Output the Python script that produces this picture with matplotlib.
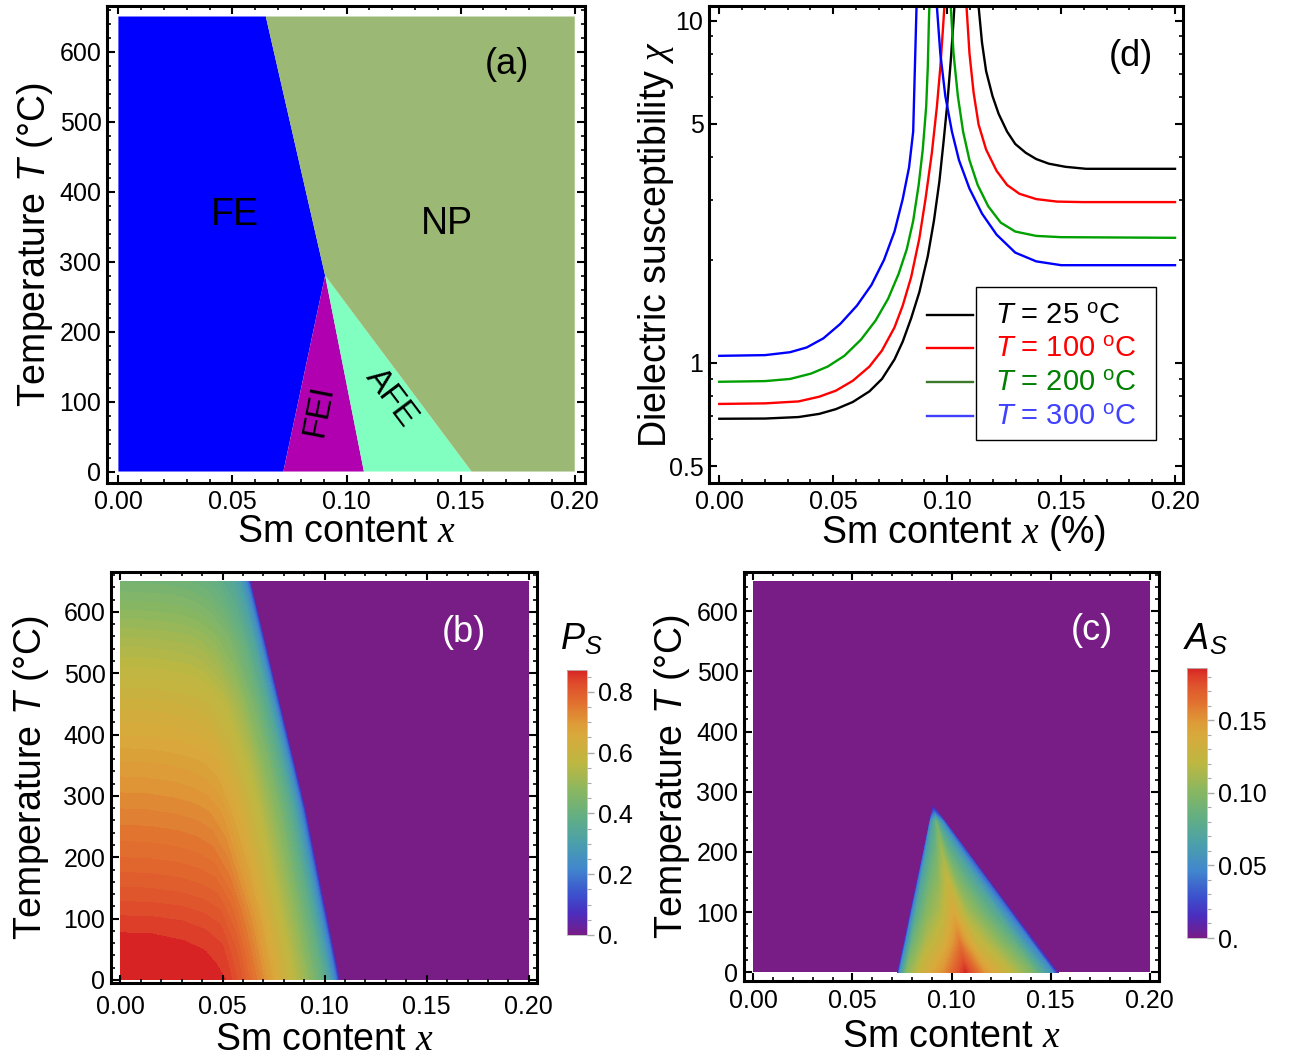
import numpy as np
import matplotlib
matplotlib.use('Agg')
import matplotlib.pyplot as plt
from matplotlib.colors import LinearSegmentedColormap, Normalize
from matplotlib.cm import ScalarMappable
from matplotlib.patches import Rectangle
from matplotlib.ticker import MultipleLocator, FixedLocator, FixedFormatter, NullFormatter

plt.rcParams['font.family'] = ['Liberation Sans', 'DejaVu Sans']
plt.rcParams['mathtext.fontset'] = 'custom'
plt.rcParams['mathtext.rm'] = 'Liberation Sans'
plt.rcParams['mathtext.it'] = 'Liberation Serif:italic'
plt.rcParams['mathtext.sf'] = 'Liberation Sans:italic'

# ---- data -------------------------------------------------------------
x_range = [0.0, 0.2]
T_range = [0, 650]

# (a) phase boundaries
triple_x, triple_T = 0.0906, 280
fe_np_top_x = 0.0646
fe_fei_bot_x = 0.0723
fei_afe_bot_x = 0.1076
afe_np_bot_x = 0.1548

# (d) susceptibility: left branch (below the transition) and right branch
chi_labels = ['25', '100', '200', '300']
left_x = [
    [0, 0.0201, 0.0348, 0.0439, 0.0512, 0.0586, 0.0659, 0.0714, 0.0769, 0.0805,
     0.0842, 0.0878, 0.0915, 0.0942, 0.0966, 0.0984, 0.1001, 0.1016, 0.1028, 0.1037],
    [0, 0.0201, 0.0348, 0.0439, 0.0512, 0.0586, 0.0659, 0.0714, 0.0769, 0.0805,
     0.0842, 0.0878, 0.0905, 0.0933, 0.0955, 0.0970, 0.0984, 0.0993],
    [0, 0.0201, 0.0311, 0.0403, 0.0476, 0.0549, 0.0622, 0.0686, 0.0741, 0.0787,
     0.0823, 0.0851, 0.0875, 0.0893, 0.0908, 0.0915, 0.0920, 0.0925],
    [0, 0.0201, 0.0311, 0.0384, 0.0457, 0.0531, 0.0604, 0.0668, 0.0723, 0.0769,
     0.0805, 0.0833, 0.0851, 0.0856, 0.0864, 0.0868],
]
left_chi = [
    [0.687, 0.688, 0.695, 0.710, 0.733, 0.769, 0.826, 0.898, 1.024, 1.154,
     1.35, 1.61, 2.05, 2.60, 3.39, 4.41, 5.74, 7.65, 10.0, 12.5],
    [0.759, 0.762, 0.772, 0.797, 0.830, 0.887, 0.976, 1.087, 1.27, 1.47,
     1.78, 2.31, 3.01, 4.11, 5.60, 7.29, 10.0, 12.5],
    [0.881, 0.885, 0.898, 0.931, 0.976, 1.049, 1.17, 1.33, 1.54, 1.82,
     2.15, 2.60, 3.31, 4.20, 5.60, 7.29, 10.0, 12.5],
    [1.049, 1.054, 1.075, 1.11, 1.18, 1.30, 1.47, 1.69, 2.00, 2.42,
     3.01, 3.73, 4.74, 6.32, 10.0, 12.5],
]
right_x = [
    [0.1133, 0.1138, 0.1153, 0.1171, 0.1199, 0.1226, 0.1263, 0.1299, 0.1345, 0.1391,
     0.1446, 0.1519, 0.1610, 0.2],
    [0.1080, 0.1085, 0.1098, 0.1116, 0.1138, 0.1171, 0.1217, 0.1263, 0.1317, 0.1391,
     0.1482, 0.1592, 0.2],
    [0.1011, 0.1016, 0.1028, 0.1047, 0.1070, 0.1098, 0.1134, 0.1180, 0.1235, 0.1299,
     0.1391, 0.1500, 0.2],
    [0.0950, 0.0955, 0.0970, 0.0992, 0.1021, 0.1052, 0.1098, 0.1153, 0.1217, 0.1299,
     0.1391, 0.1500, 0.2],
]
right_chi = [
    [12.5, 11.0, 8.62, 7.12, 6.02, 5.34, 4.74, 4.36, 4.11, 3.94, 3.82, 3.74, 3.69, 3.69],
    [12.5, 11.0, 8.02, 6.17, 4.97, 4.20, 3.64, 3.31, 3.12, 3.01, 2.96, 2.95, 2.95],
    [12.5, 11.0, 8.02, 6.02, 4.74, 3.91, 3.31, 2.87, 2.57, 2.42, 2.35, 2.33, 2.32],
    [12.5, 11.0, 8.02, 6.02, 4.74, 3.91, 3.23, 2.73, 2.37, 2.10, 1.98, 1.93, 1.93],
]

# (b) Ps: rows of T, columns given as fraction of the FE edge x at that T
ps_T = [0, 25, 50, 75, 100, 125, 150, 200, 280, 350, 450, 550, 650]
ps_edge = [0.1075, 0.1060, 0.1045, 0.1030, 0.1015, 0.0999, 0.0984, 0.0954, 0.0906,
           0.0855, 0.0782, 0.0710, 0.0637]
ps_frac = [0, 0.15, 0.3, 0.4, 0.48, 0.55, 0.65, 0.75, 0.85, 0.92, 0.96, 0.985, 1.0]
ps_vals = [
    [0.866, 0.865, 0.862, 0.857, 0.850, 0.810, 0.720, 0.610, 0.490, 0.390, 0.290, 0.180, 0],
    [0.864, 0.863, 0.860, 0.855, 0.846, 0.805, 0.715, 0.610, 0.490, 0.390, 0.290, 0.180, 0],
    [0.860, 0.859, 0.855, 0.849, 0.838, 0.800, 0.710, 0.605, 0.485, 0.385, 0.285, 0.180, 0],
    [0.851, 0.850, 0.846, 0.839, 0.828, 0.790, 0.705, 0.600, 0.485, 0.385, 0.285, 0.180, 0],
    [0.838, 0.837, 0.833, 0.826, 0.815, 0.780, 0.700, 0.595, 0.480, 0.380, 0.280, 0.175, 0],
    [0.822, 0.821, 0.817, 0.810, 0.800, 0.770, 0.690, 0.590, 0.480, 0.380, 0.280, 0.175, 0],
    [0.806, 0.805, 0.800, 0.794, 0.785, 0.755, 0.680, 0.585, 0.475, 0.375, 0.280, 0.175, 0],
    [0.775, 0.774, 0.770, 0.764, 0.755, 0.730, 0.665, 0.575, 0.470, 0.370, 0.275, 0.170, 0],
    [0.730, 0.729, 0.725, 0.720, 0.712, 0.695, 0.640, 0.560, 0.460, 0.365, 0.270, 0.170, 0],
    [0.690, 0.689, 0.685, 0.680, 0.673, 0.660, 0.615, 0.545, 0.450, 0.360, 0.270, 0.170, 0],
    [0.620, 0.619, 0.615, 0.610, 0.605, 0.595, 0.565, 0.510, 0.430, 0.350, 0.260, 0.165, 0],
    [0.530, 0.529, 0.526, 0.522, 0.518, 0.510, 0.490, 0.455, 0.400, 0.330, 0.250, 0.160, 0],
    [0.430, 0.429, 0.427, 0.424, 0.420, 0.415, 0.405, 0.385, 0.350, 0.300, 0.235, 0.155, 0],
]

# (c) As: rows of T; columns run left edge -> ridge (FEI/AFE) -> right edge
as_T = [0, 50, 100, 150, 200, 250, 277]
as_left = [0.0726, 0.0759, 0.0791, 0.0824, 0.0857, 0.0889, 0.0907]
as_ridge = [0.1070, 0.1041, 0.1011, 0.0982, 0.0952, 0.0923, 0.0907]
as_right = [0.1539, 0.1425, 0.1311, 0.1197, 0.1083, 0.0969, 0.0907]
as_u = [0, 0.04, 0.15, 0.4, 0.7, 1.0]
as_w = [0.22, 0.45, 0.72, 0.94, 1.0]
as_vals = [
    [0, 0.056, 0.102, 0.133, 0.154, 0.185, 0.148, 0.126, 0.096, 0.050, 0],
    [0, 0.048, 0.088, 0.115, 0.133, 0.160, 0.128, 0.109, 0.083, 0.043, 0],
    [0, 0.042, 0.077, 0.101, 0.116, 0.140, 0.112, 0.095, 0.073, 0.038, 0],
    [0, 0.038, 0.069, 0.090, 0.104, 0.125, 0.100, 0.085, 0.065, 0.034, 0],
    [0, 0.033, 0.061, 0.079, 0.091, 0.110, 0.088, 0.075, 0.057, 0.030, 0],
    [0, 0.027, 0.050, 0.065, 0.075, 0.090, 0.072, 0.061, 0.047, 0.024, 0],
    [0, 0, 0, 0, 0, 0, 0, 0, 0, 0, 0],
]

# ---- styles -----------------------------------------------------------
rainbow = LinearSegmentedColormap.from_list('rainbow_m', [
    (0.00, (120/255, 28/255, 134/255)),
    (0.08, (75/255, 45/255, 190/255)),
    (0.15, (60/255, 80/255, 205/255)),
    (0.25, (65/255, 135/255, 205/255)),
    (0.35, (75/255, 160/255, 170/255)),
    (0.45, (100/255, 175/255, 130/255)),
    (0.55, (140/255, 183/255, 95/255)),
    (0.65, (190/255, 183/255, 65/255)),
    (0.75, (215/255, 170/255, 60/255)),
    (0.80, (222/255, 155/255, 55/255)),
    (0.87, (225/255, 115/255, 48/255)),
    (0.94, (223/255, 82/255, 44/255)),
    (0.975, (219/255, 58/255, 40/255)),
    (1.00, (215/255, 35/255, 35/255)),
])
purple = rainbow(0.0)

W, H = 1294, 1059
fig = plt.figure(figsize=(W/100, H/100), dpi=100)


def rect(l, t, r, b):
    return [l/W, 1 - b/H, (r - l)/W, (b - t)/H]


def frame(ax, xpad=5):
    for s in ax.spines.values():
        s.set_linewidth(2.2)
    ax.tick_params(which='both', direction='in', top=True, right=True, labelsize=18)
    ax.tick_params(axis='x', pad=xpad)
    ax.tick_params(axis='y', pad=4)
    ax.tick_params(which='major', length=6, width=1.5)
    ax.tick_params(which='minor', length=3, width=1.2)


def T_axes(ax, ylim, xlim, xpad, xlpad, ylpad):
    frame(ax, xpad)
    ax.set_xlim(*xlim)
    ax.set_ylim(*ylim)
    ax.xaxis.set_major_locator(MultipleLocator(0.05))
    ax.xaxis.set_minor_locator(MultipleLocator(0.01))
    ax.yaxis.set_major_locator(MultipleLocator(100))
    ax.yaxis.set_minor_locator(MultipleLocator(20))
    ax.xaxis.set_major_formatter(plt.FuncFormatter(lambda v, p: '%.2f' % v))
    ax.set_xlabel('Sm content $x$', fontsize=27, labelpad=xlpad)
    ax.set_ylabel('Temperature $\\mathsf{T}$ (°C)', fontsize=27, labelpad=ylpad)


# ---- (a) phase diagram ------------------------------------------------
ax_a = fig.add_axes(rect(107, 6, 585, 483))
T_axes(ax_a, (-16.4, 665), (-0.005, 0.2045), 5, 0, 3)
x0, x1 = x_range
T0, T1 = T_range
ax_a.fill([x0, fe_fei_bot_x, triple_x, fe_np_top_x, x0], [T0, T0, triple_T, T1, T1],
          color='#0000FF', lw=0)
ax_a.fill([fe_fei_bot_x, fei_afe_bot_x, triple_x], [T0, T0, triple_T], color='#B000B0', lw=0)
ax_a.fill([fei_afe_bot_x, afe_np_bot_x, triple_x], [T0, T0, triple_T], color='#80FFC0', lw=0)
ax_a.fill([afe_np_bot_x, x1, x1, fe_np_top_x, triple_x], [T0, T0, T1, T1, triple_T],
          color='#9BB974', lw=0)
ax_a.text(0.0511, 366, 'FE', fontsize=27, ha='center', va='center')
ax_a.text(0.144, 353, 'NP', fontsize=27, ha='center', va='center')
ax_a.text(0.0877, 86, 'FEI', fontsize=24, ha='center', va='center', rotation=79)
ax_a.text(0.1195, 106, 'AFE', fontsize=24, ha='center', va='center', rotation=-53)
ax_a.text(0.1704, 582, '(a)', fontsize=26, ha='center', va='center')

# ---- (d) susceptibility ------------------------------------------------
ax_d = fig.add_axes(rect(709, 6, 1183, 483))
frame(ax_d, 5)
ax_d.set_yscale('log')
ax_d.set_xlim(-0.0045, 0.2035)
ax_d.set_ylim(0.446, 11.03)
curve_colors = ['#000000', '#FF0000', '#00A000', '#0000FF']
for i in range(4):
    ax_d.plot(left_x[i], left_chi[i], color=curve_colors[i], lw=1.7)
    ax_d.plot(right_x[i], right_chi[i], color=curve_colors[i], lw=1.7)
ax_d.xaxis.set_major_locator(MultipleLocator(0.05))
ax_d.xaxis.set_minor_locator(MultipleLocator(0.01))
ax_d.xaxis.set_major_formatter(plt.FuncFormatter(lambda v, p: '%.2f' % v))
ax_d.yaxis.set_major_locator(FixedLocator([0.5, 1, 5, 10]))
ax_d.yaxis.set_major_formatter(FixedFormatter(['0.5', '1', '5', '10']))
ax_d.yaxis.set_minor_locator(FixedLocator([0.6, 0.7, 0.8, 0.9, 2, 3, 4, 6, 7, 8, 9]))
ax_d.yaxis.set_minor_formatter(NullFormatter())
ax_d.set_xlabel('Sm content $x$ (%)', fontsize=27, labelpad=0)
ax_d.xaxis.set_label_coords(0.538, -0.062)
ax_d.set_ylabel('Dielectric susceptibility $\\chi$', fontsize=27, labelpad=-5)
ax_d.text(0.1808, 7.83, '(d)', fontsize=26, ha='center', va='center')

# legend: handles sit outside the framed box
leg_line_colors = ['#000000', '#FF0000', '#3C7A2A', '#4040FF']
leg_text_colors = ['#000000', '#FF0000', '#008000', '#4040FF']
leg_y = [0.352, 0.283, 0.212, 0.140]
ax_d.add_patch(Rectangle((0.563, 0.090), 0.380, 0.321, transform=ax_d.transAxes,
                         fill=False, ec='black', lw=1.0))
for i in range(4):
    ax_d.plot([0.46, 0.557], [leg_y[i]] * 2, transform=ax_d.transAxes,
              color=leg_line_colors[i], lw=1.7)
    ax_d.text(0.603, leg_y[i], '$\\mathsf{T}$ = %s $^\\mathrm{o}$C' % chi_labels[i],
              transform=ax_d.transAxes, color=leg_text_colors[i], fontsize=21, va='center')

# ---- (b) Ps map -------------------------------------------------------
ax_b = fig.add_axes(rect(111, 572, 537, 983))
T_axes(ax_b, (-5, 665), (-0.0046, 0.204), 9, 2, 9)
ax_b.fill_between(x_range, T_range[0], T_range[1], color=purple, lw=0)
ps_x = np.outer(ps_edge, ps_frac)
ps_y = np.repeat(np.array(ps_T, float)[:, None], len(ps_frac), axis=1)
norm_b = Normalize(0, 0.872)
ps_levels = np.append(np.linspace(0, 0.85, 58), 0.9)
ax_b.contourf(ps_x, ps_y, np.array(ps_vals), levels=ps_levels, cmap=rainbow, norm=norm_b)
ax_b.text(0.168, 567, '(b)', fontsize=26, color='white', ha='center', va='center')

cax_b = fig.add_axes(rect(567, 670, 587, 935))
cb_b = fig.colorbar(ScalarMappable(norm=norm_b, cmap=rainbow), cax=cax_b)
cb_b.set_ticks([0, 0.2, 0.4, 0.6, 0.8])
cb_b.set_ticklabels(['0.', '0.2', '0.4', '0.6', '0.8'])
cax_b.yaxis.set_minor_locator(MultipleLocator(0.05))
cb_b.outline.set_linewidth(0.6)
cb_b.outline.set_edgecolor('#BBBBBB')
cax_b.tick_params(which='both', color='#AAAAAA', labelsize=18, pad=3)
cax_b.tick_params(which='major', length=5, width=1)
cax_b.tick_params(which='minor', length=3, width=0.8)
fig.text(581/W, 1 - 640/H, '$\\mathsf{P}_\\mathsf{S}$', fontsize=26, ha='center', va='center')

# ---- (c) As map -------------------------------------------------------
ax_c = fig.add_axes(rect(744, 572, 1159, 981))
T_axes(ax_c, (-14.5, 665), (-0.0047, 0.2047), 6, 4, 3)
ax_c.fill_between(x_range, T_range[0], T_range[1], color=purple, lw=0)
as_x = []
for i in range(len(as_T)):
    row = [as_left[i] + u * (as_ridge[i] - as_left[i]) for u in as_u]
    row += [as_ridge[i] + w * (as_right[i] - as_ridge[i]) for w in as_w]
    as_x.append(row)
as_x = np.array(as_x)
as_y = np.repeat(np.array(as_T, float)[:, None], as_x.shape[1], axis=1)
norm_c = Normalize(0, 0.186)
ax_c.contourf(as_x, as_y, np.array(as_vals), levels=np.linspace(0, 0.19, 80),
              cmap=rainbow, norm=norm_c)
ax_c.text(0.171, 567, '(c)', fontsize=26, color='white', ha='center', va='center')

cax_c = fig.add_axes(rect(1187, 668, 1207, 938))
cb_c = fig.colorbar(ScalarMappable(norm=norm_c, cmap=rainbow), cax=cax_c)
cb_c.set_ticks([0, 0.05, 0.10, 0.15])
cb_c.set_ticklabels(['0.', '0.05', '0.10', '0.15'])
cax_c.yaxis.set_minor_locator(MultipleLocator(0.01))
cb_c.outline.set_linewidth(0.6)
cb_c.outline.set_edgecolor('#BBBBBB')
cax_c.tick_params(which='both', color='#AAAAAA', labelsize=18, pad=3)
cax_c.tick_params(which='major', length=5, width=1)
cax_c.tick_params(which='minor', length=3, width=0.8)
fig.text(1205/W, 1 - 640/H, '$\\mathsf{A}_\\mathsf{S}$', fontsize=26, ha='center', va='center')

fig.savefig('out.png', dpi=100)
